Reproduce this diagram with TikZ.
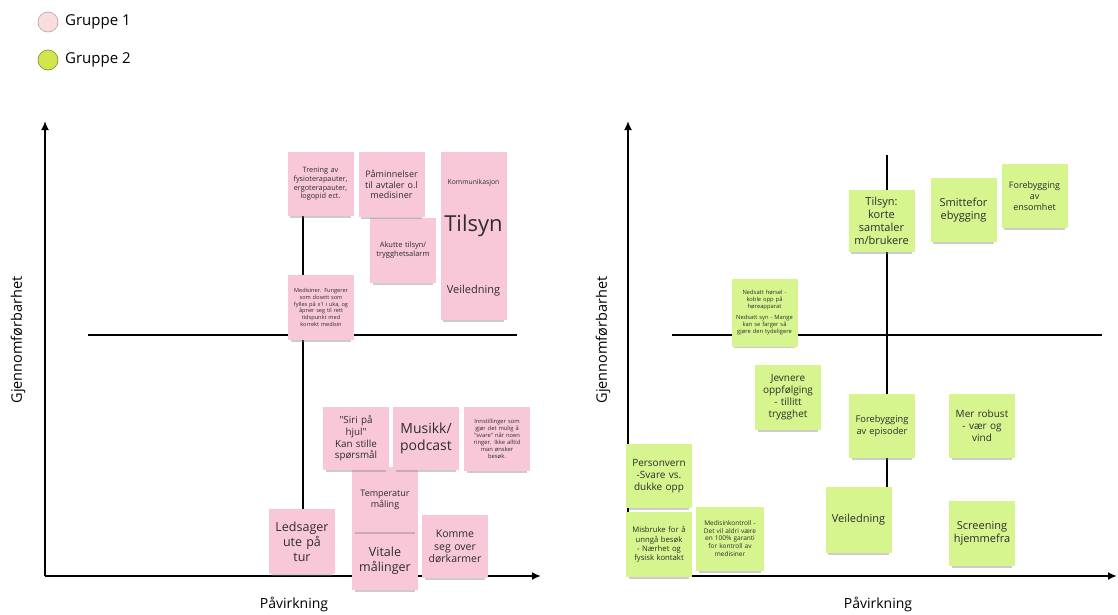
\documentclass[tikz,border=0pt]{standalone}
\usepackage{fontspec}
\setmainfont{Open Sans}
\usetikzlibrary{arrows.meta}
\usetikzlibrary{shadows}
\definecolor{notepink}{RGB}{248, 200, 216}
\definecolor{notegreen}{RGB}{214, 245, 142}
\definecolor{legpink}{RGB}{251, 220, 222}
\definecolor{leggreen}{RGB}{211, 229, 74}
\definecolor{notetext}{RGB}{45, 45, 45}
\tikzset{fs/.style = {font = \fontsize{#1}{\dimexpr #1pt*6/5\relax}\selectfont}}
\tikzset{note/.style = {rectangle, inner sep = 0, align = center, text = notetext,
                        minimum width = 66pt, minimum height = 64pt, text width = 62pt,
                        drop shadow = {shadow xshift = 0pt, shadow yshift = -5pt,
                                       shadow scale = 0.92, opacity = 0.4}}}
\tikzset{pnote/.style = {note, fill = notepink}}
\tikzset{gnote/.style = {note, fill = notegreen}}
\tikzset{axis/.style = {line width = 1.8pt, -{Latex[length = 9pt, width = 8pt]}}}
\tikzset{cross/.style = {line width = 1.8pt}}
\tikzset{dot/.style = {circle, inner sep = 0, minimum size = 20pt, line width = 0.6pt}}

\begin{document}
\begin{tikzpicture}[x = 1pt, y = -1pt]
      \useasboundingbox (0, 0) rectangle (1118, 614);

      \node [dot, draw = gray!70, fill = legpink] (g1dot) at (48, 22) {};
      \node [fs=15, anchor = west, inner sep = 0] (g1) at (65, 22) {Gruppe 1};
      \node [dot, draw = leggreen!60!black, fill = leggreen] (g2dot) at (48, 60) {};
      \node [fs=15, anchor = west, inner sep = 0] (g2) at (65, 60) {Gruppe 2};

      \coordinate (lo) at (45, 576);
      \coordinate (ltop) at (45, 121);
      \coordinate (lright) at (541, 576);
      \coordinate (lh1) at (88, 335);
      \coordinate (lh2) at (517, 335);
      \coordinate (lv1) at (303, 160);
      \coordinate (lv2) at (303, 515);
      \draw [axis] (lo) -- (ltop);
      \draw [axis] (lo) -- (lright);
      \draw [cross] (lh1) -- (lh2);
      \draw [cross] (lv1) -- (lv2);
      \node [fs=14.5, rotate = 90] (lylab) at (18, 340) {Gjennomførbarhet};
      \node [fs=14] (lxlab) at (294, 604) {Påvirkning};

      \coordinate (ro) at (628, 576);
      \coordinate (rtop) at (628, 121);
      \coordinate (rright) at (1117, 576);
      \coordinate (rh1) at (672, 335);
      \coordinate (rh2) at (1102, 335);
      \coordinate (rv1) at (887, 155);
      \coordinate (rv2) at (887, 540);
      \draw [axis] (ro) -- (rtop);
      \draw [axis] (ro) -- (rright);
      \draw [cross] (rh1) -- (rh2);
      \draw [cross] (rv1) -- (rv2);
      \node [fs=14.5, rotate = 90] (rylab) at (603, 340) {Gjennomførbarhet};
      \node [fs=14] (rxlab) at (878, 604) {Påvirkning};

      \node [pnote, fs=7.3] (trening) at (320.5, 184) {Trening av\\fysioterapauter,\\ergoterapauter,\\logopid ect.};
      \node [pnote, fs=7.5, minimum height = 65pt] (akutt) at (403, 250.5) {Akutte tilsyn/\\trygghetsalarm};
      \node [pnote, fs=9, minimum height = 65pt] (paamin) at (391.5, 184.5) {Påminnelser\\til avtaler o.l\\medisiner};
      \node [pnote, fs=11, minimum height = 58pt] (veil) at (473.5, 291) {Veiledning\\[4pt]};
      \node [pnote, minimum height = 110pt] (tilsynbox) at (473.5, 207) {};
      \node [fs=6.8, text = notetext] (komm) at (473.5, 183) {Kommunikasjon};
      \node [fs=22, text = notetext] (tilsyn) at (473.5, 226) {Tilsyn};
      \node [pnote, fs=5.6, minimum height = 65pt] (medis) at (321, 307.5) {Medisiner. Fungerer\\som dosett som\\fylles på x1 i uka, og\\åpner seg til rett\\tidspunkt med\\korrekt medisin};

      \node [pnote, fs=12.5, minimum height = 58pt] (vitale) at (385, 561) {Vitale\\målinger};
      \node [pnote, fs=9, minimum height = 65pt] (temp) at (385, 499.5) {Temperatur\\måling\\[6pt]};
      \node [pnote, fs=9.8, minimum height = 63pt] (siri) at (356, 438.5) {\textquotedbl Siri på\\hjul\textquotedbl\\Kan stille\\spørsmål};
      \node [pnote, fs=14, minimum height = 63pt] (musikk) at (426, 438.5) {Musikk/\\podcast};
      \node [pnote, fs=5.8] (innst) at (497, 439) {Innstillinger som\\gjør det mulig å\\\textquotedbl svare\textquotedbl{} når noen\\ringer. Ikke alltid\\man ønsker\\besøk.};
      \node [pnote, fs=12.5, minimum height = 65pt] (leds) at (302, 541.5) {Ledsager\\ute på\\tur};
      \node [pnote, fs=10.5, minimum height = 63pt] (komme) at (455, 546.5) {Komme\\seg over\\dørkarmer};

      \node [gnote, fs=11, minimum height = 62pt] (gtilsyn) at (881.5, 221) {Tilsyn:\\korte\\samtaler\\m/brukere};
      \node [gnote, fs=11] (smitte) at (963.5, 210) {Smittefor\\ebygging};
      \node [gnote, fs=9] (ensom) at (1034.5, 196) {Forebygging\\av\\ensomhet};
      \node [gnote, fs=5.8, minimum height = 68pt] (nedsatt) at (764.5, 312.5) {Nedsatt hørsel -\\koble opp på\\høreapparat\\[5pt]Nedsatt syn - Mange\\kan se farger så\\gjøre den tydeligere};
      \node [gnote, fs=10, minimum height = 65pt] (jevn) at (788, 397.5) {Jevnere\\oppfølging\\- tillitt\\trygghet};
      \node [gnote, fs=9.3] (foreb) at (882, 426) {Forebygging\\av episoder};
      \node [gnote, fs=10] (robust) at (982, 426) {Mer robust\\- vær og\\vind};
      \node [gnote, fs=7.7, minimum height = 65pt] (misbruk) at (659, 544.5) {Misbruke for å\\unngå besøk\\- Nærhet og\\fysisk kontakt};
      \node [gnote, fs=10] (personv) at (659, 476) {Personvern\\-Svare vs.\\dukke opp};
      \node [gnote, fs=6.5, minimum width = 68pt] (medkontr) at (730, 538.5) {Medisinkontroll -\\Det vil aldri være\\en 100\% garanti\\for kontroll av\\medisiner};
      \node [gnote, fs=11, minimum height = 66pt] (gveil) at (858.5, 520) {Veiledning\\[4pt]};
      \node [gnote, fs=11, minimum height = 65pt] (screen) at (982, 533) {Screening\\hjemmefra};
\end{tikzpicture}
\end{document}
